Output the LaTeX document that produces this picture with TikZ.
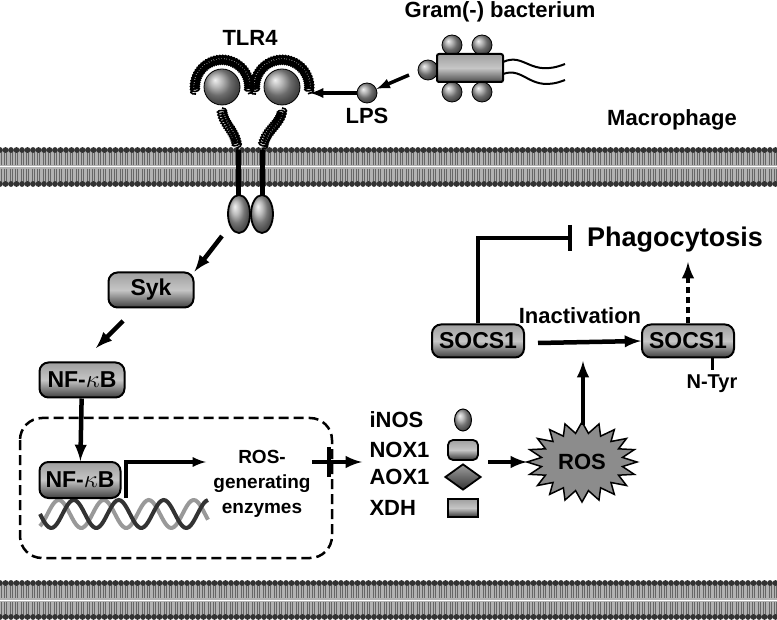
\documentclass[tikz,border=0pt]{standalone}
\usepackage{fontspec}
\setmainfont{Liberation Sans}
\usetikzlibrary{shapes.geometric,decorations.pathmorphing,positioning,calc}
\definecolor{boxgray}{RGB}{140,140,140}
\newcommand{\membrane}[1]{
  \fill[gray!60] (0,#1+3) rectangle (777,#1+37);
  \draw[white,line width=1pt] (0,#1+20) -- (777,#1+20);
  \foreach \mx in {0,5.5,...,780} {
    \draw[black!60,line width=.6pt] (\mx-1,#1+3) -- (\mx-1,#1+18) (\mx+1,#1+3) -- (\mx+1,#1+18);
    \draw[black!60,line width=.6pt] (\mx-1,#1+22) -- (\mx-1,#1+37) (\mx+1,#1+22) -- (\mx+1,#1+37);
    \fill[black!80] (\mx,#1+3) circle (2.9);
    \fill[black!80] (\mx,#1+37) circle (2.9);
  }
}
\tikzstyle{prot}=[rounded corners=9pt, draw, line width=2pt, top color=gray!75, bottom color=black!75, middle color=gray!45, font=\bfseries\fontsize{23}{25}\selectfont, inner sep=1pt]
\tikzstyle{lab}=[font=\bfseries\fontsize{22}{25}\selectfont]
\tikzstyle{ball}=[circle, ball color=gray!80, draw=black, line width=.8pt]
\tikzset{arr/.style={-latex, line width=4.5pt}}
\tikzset{coilarc/.style={decorate, decoration={coil, amplitude=4.5pt, segment length=2.5pt}, line width=1.6pt}}
\tikzset{x=1pt,y=-1pt}
\begin{document}
\begin{tikzpicture}
  \useasboundingbox (0,0) rectangle (777,620);
  %% membranes
  \membrane{147}
  \membrane{580}

  %% TLR4
  \node[lab] (tlr) at (250,38) {TLR4};
  \draw[coilarc] (196,94) arc (165:375:27);
  \draw[coilarc] (256,94) arc (165:375:27);
  \draw[coilarc] (222,108) .. controls (222,125) and (237,130) .. (237,150);
  \draw[coilarc] (282,108) .. controls (282,125) and (263,130) .. (263,150);
  \node[ball, minimum size=36] (s1) at (222,87) {};
  \node[ball, minimum size=36] (s2) at (282,87) {};
  \draw[line width=5pt] (238,150) -- (238,196);
  \draw[line width=5pt] (262,150) -- (262,196);
  \node[ellipse, draw, line width=1.8pt, ball color=gray!70, minimum width=22, minimum height=38] (e1) at (239,214) {};
  \node[ellipse, draw, line width=1.8pt, ball color=gray!70, minimum width=22, minimum height=38] (e2) at (262,214) {};

  %% bacterium
  \node[lab] (gram) at (500,12) {Gram(-) bacterium};
  \draw[line width=2pt] (503,62) .. controls (525,52) and (530,78) .. (565,64);
  \draw[line width=2pt] (503,74) .. controls (525,66) and (530,94) .. (565,80);
  \node[ball, minimum size=20] at (452,45) {};
  \node[ball, minimum size=20] at (482,45) {};
  \node[ball, minimum size=20] at (452,92) {};
  \node[ball, minimum size=20] at (482,92) {};
  \node[ball, minimum size=20] at (428,70) {};
  \node[draw, line width=2pt, rounded corners=2pt, top color=gray!75, bottom color=black!70, middle color=gray!45, minimum width=66, minimum height=28] (bact) at (470,68) {};
  \node[ball, minimum size=20] (lps) at (367,93) {};
  \node[lab, below=1pt of lps] {LPS};
  \node[lab] (mac) at (672,120) {Macrophage};
  \draw[arr, line width=3.5pt] (409,75) -- (lps);
  \draw[arr, line width=3.5pt] (lps) -- (310,93);

  %% cascade
  \node[prot, minimum width=85, minimum height=35] (syk) at (151,290) {Syk};
  \node[prot, minimum width=85, minimum height=35] (nfkb) at (82,380) {NF-$\kappa$B};
  \draw[arr] (222,236) -- (syk.north east);
  \draw[arr] (123,321) -- (96,348);

  %% nucleus
  \draw[dashed, line width=2.5pt, dash pattern=on 10pt off 5pt, rounded corners=22pt] (20,418) rectangle (332,558);
  \draw[line width=4pt, black!40] plot[domain=40:208, samples=80] (\x,{514+14*sin((\x-40)*8+120)});
  \draw[line width=4pt, black!80] plot[domain=40:208, samples=80] (\x,{514+14*sin((\x-40)*8)});
  \node[prot, minimum width=81, minimum height=36] (nfkb2) at (80,480) {NF-$\kappa$B};
  \draw[arr] (nfkb) -- (nfkb2);
  \draw[arr, line width=3.5pt] (126,498) -- (126,462) -- (206,462);
  \node[lab, align=center, font=\bfseries\fontsize{19}{25}\selectfont] (enz) at (262,484) {ROS-\\generating\\enzymes};
  \draw[arr] (312,462) -- (362,462);
  \draw[line width=4pt] (329,447) -- (329,477);

  %% enzymes
  \node[lab, anchor=west] (inos) at (366,420) {iNOS};
  \node[lab, anchor=west] (nox) at (366,450) {NOX1};
  \node[lab, anchor=west] (aox) at (366,477) {AOX1};
  \node[lab, anchor=west] (xdh) at (366,508) {XDH};
  \node[ellipse, ball color=gray!70, draw, line width=1pt, minimum width=17, minimum height=22] at (463,420) {};
  \node[draw, line width=1.8pt, rounded corners=5pt, top color=gray!75, bottom color=black!80, middle color=gray!45, minimum width=30, minimum height=20] at (463,450) {};
  \node[diamond, draw, line width=1.8pt, top color=gray!75, bottom color=black!80, minimum width=36, minimum height=26, inner sep=0pt] at (463,477) {};
  \node[draw, line width=1.8pt, top color=gray!75, bottom color=black!80, middle color=gray!45, minimum width=30, minimum height=18] at (463,508) {};

  %% ROS
  \draw[line width=1.5pt, fill=boxgray] plot[domain=0:40, samples=41, variable=\k] ({582+cos(\k*9)*(55-14*mod(\k,2))},{462+sin(\k*9)*(40-11*mod(\k,2))}) -- cycle;
  \node[lab] (ros) at (582,462) {ROS};
  \draw[arr] (488,462) -- (527,462);

  %% SOCS1
  \node[prot, minimum width=92, minimum height=33] (socs) at (478,341) {SOCS1};
  \node[prot, minimum width=92, minimum height=33] (socsn) at (688,341) {SOCS1};
  \node[lab, font=\bfseries\fontsize{27}{30}\selectfont] (phago) at (675,240) {Phagocytosis};
  \draw[arr] (538,343) -- (socsn.west);
  \node[lab] (inact) at (580,316) {Inactivation};
  \draw[arr] (583,425) -- (583,361);
  \draw[line width=4.5pt] (socs.north) -- (478,238) -- (570,238);
  \draw[line width=4.5pt] (570,225) -- (570,251);
  \draw[arr, dashed, dash pattern=on 6pt off 4pt] (socsn.north) -- (688,262);
  \coordinate (tyr) at (712,357);
  \draw[line width=3pt] (tyr) -- (712,370) node[lab, below, font=\bfseries\fontsize{20}{22}\selectfont] {N-Tyr};
\end{tikzpicture}
\end{document}
